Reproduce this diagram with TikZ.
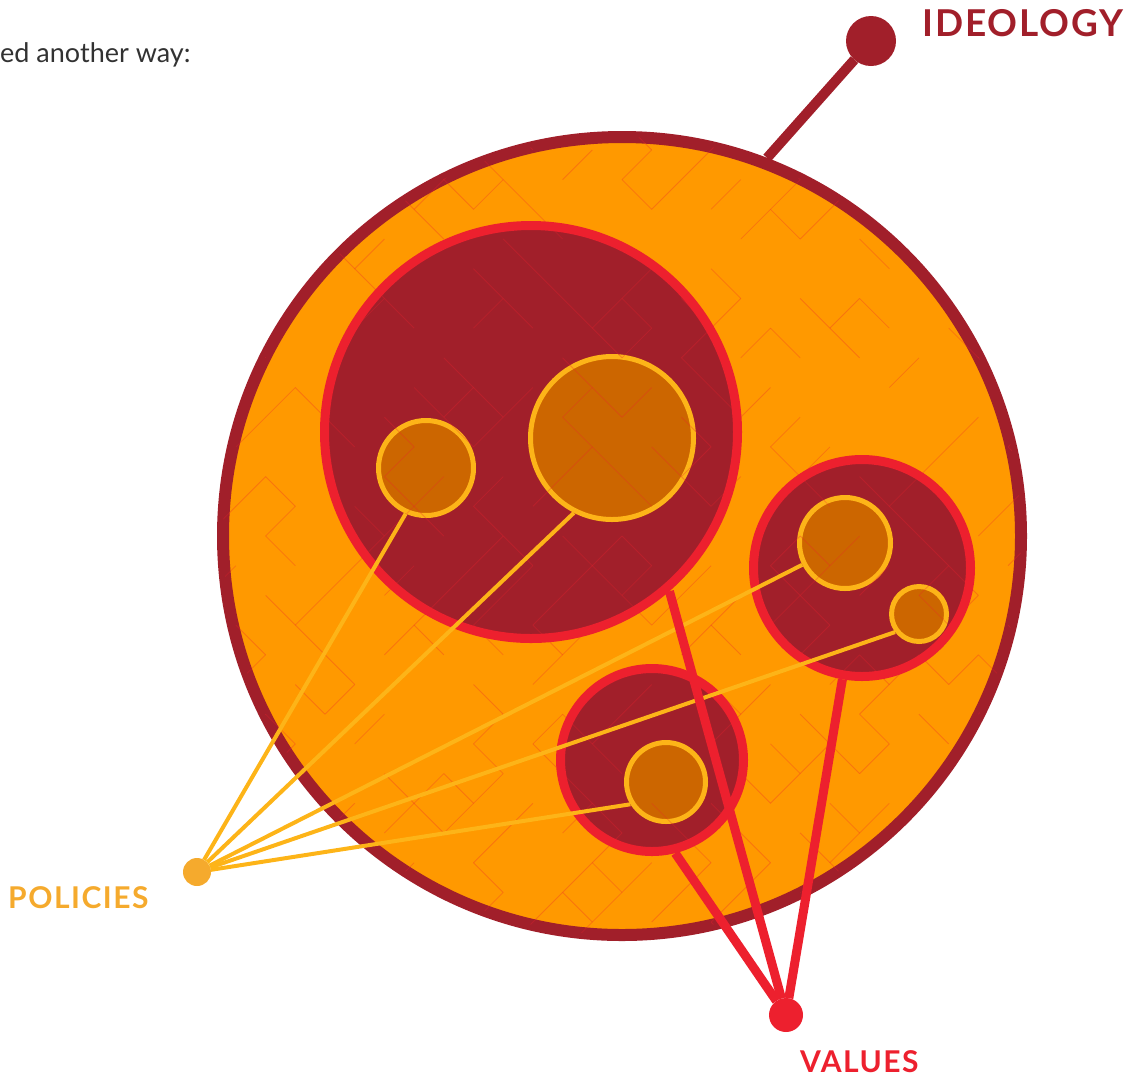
\documentclass[tikz,border=0pt]{standalone}
\usepackage{fontspec}
\setmainfont{Lato}
\usepackage{tikz}
\usetikzlibrary{positioning}
\definecolor{wine}{RGB}{161,31,42}
\definecolor{crimson}{RGB}{237,32,46}
\definecolor{amber}{RGB}{255,153,0}
\definecolor{rust}{RGB}{204,102,0}
\definecolor{gold}{RGB}{253,180,24}
\definecolor{polgold}{RGB}{245,170,45}
\definecolor{ink}{RGB}{50,50,50}

\tikzset{
  ideoc/.style={circle, draw=wine, line width=12pt, fill=amber, inner sep=0pt},
  valc/.style={circle, draw=crimson, line width=9pt, fill=wine, inner sep=0pt},
  polc/.style={circle, draw=gold, line width=5pt, fill=rust, inner sep=0pt},
  dot/.style={circle, inner sep=0pt, outer sep=0pt},
  texture/.style={draw=crimson, line width=0.8pt, opacity=0.3},
  polline/.style={gold, line width=4pt},
  valline/.style={crimson, line width=9pt},
  lbl/.style={font=\fontsize{#1}{#1}\bfseries\addfontfeature{LetterSpace=5}, inner sep=0pt}
}

\begin{document}
\begin{tikzpicture}[x=1pt, y=-1pt]
  \useasboundingbox (0,0) rectangle (1131,1080);
  % intro text
  \node[anchor=base west, inner sep=0pt, text=ink,
        font=\fontsize{27}{32}\selectfont] (intro) at (0,62) {ed another way:};

  % ideology circle
  \node[ideoc, minimum size=798pt] (ideo) at (622,536) {};
  % value circles
  \node[valc, minimum size=413pt] (valA) at (531,432) {};
  \node[valc, minimum size=217pt] (valB) at (862,568) {};
  \node[valc, minimum size=183pt] (valC) at (652,760) {};
  % policy circles
  \node[polc, minimum size=95pt]  (polA) at (426,468) {};
  \node[polc, minimum size=163pt] (polB) at (612,438) {};
  \node[polc, minimum size=91pt]  (polC) at (845,543) {};
  \node[polc, minimum size=55pt]  (polD) at (919,614) {};
  \node[polc, minimum size=79pt]  (polE) at (666,782) {};

  % texture: a maze of short edges on a tilted grid
  \begin{scope}
    \clip (622,536) circle (399);
    \begin{scope}[shift={(622,536)}, rotate=45]
      \pgfmathsetseed{7}
      \foreach \i in {-10,...,10}{
        \foreach \j in {-10,...,10}{
          \pgfmathsetmacro{\ra}{rnd}
          \pgfmathsetmacro{\rb}{rnd}
          \ifdim\ra pt<0.38pt \draw[texture] (\i*42,\j*42) -- ++(42,0); \fi
          \ifdim\rb pt<0.38pt \draw[texture] (\i*42,\j*42) -- ++(0,42); \fi
        }
      }
    \end{scope}
  \end{scope}

  % end dots
  \node[dot, fill=wine, minimum size=50pt]    (ideodot) at (871,41) {};
  \node[dot, fill=polgold, minimum size=28pt] (poldot)  at (197,872) {};
  \node[dot, fill=crimson, minimum size=34pt] (valdot)  at (786,1015) {};

  % connectors
  \draw[wine, line width=10pt] (ideodot) -- (ideo.69);
  \draw[polline] (poldot) -- (polA.-114);
  \draw[polline] (poldot) -- (polB.-117);
  \draw[polline] (poldot) -- (polC.-153);
  \draw[polline] (poldot) -- (polD.-143);
  \draw[polline] (poldot) -- (polE.-148);
  \draw[valline] (valdot) -- (valA.-49);
  \draw[valline] (valdot) -- (valB.-100);
  \draw[valline] (valdot) -- (valC.-76);

  % labels
  \node[lbl=37, text=wine, anchor=base west]    (ideolbl) at (922,36) {IDEOLOGY};
  \node[lbl=30, text=polgold, anchor=base west] (pollbl)  at (8,908)  {POLICIES};
  \node[lbl=30, text=crimson, anchor=base west] (vallbl)  at (800,1072) {VALUES};
\end{tikzpicture}
\end{document}
